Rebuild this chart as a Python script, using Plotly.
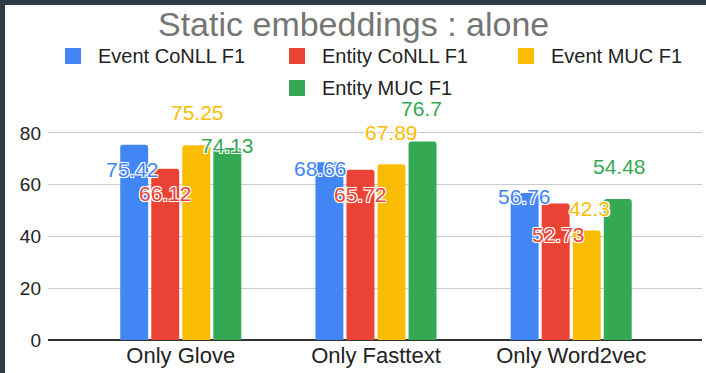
import plotly.graph_objects as go

# ---- data ----
categories = ["Only Glove", "Only Fasttext", "Only Word2vec"]
series_names = ["Event CoNLL F1", "Entity CoNLL F1", "Event MUC F1", "Entity MUC F1"]
event_conll = [75.42, 68.66, 56.76]
entity_conll = [66.12, 65.72, 52.73]
event_muc = [75.25, 67.89, 42.3]
entity_muc = [74.13, 76.7, 54.48]
y_ticks = [0, 20, 40, 60, 80]

series_values = [event_conll, entity_conll, event_muc, entity_muc]
colors = ["#4285F4", "#EA4335", "#FBBC04", "#34A853"]

# label nudges in pixels (dx, dy) relative to the top-centre of each bar
label_nudge = [
    [(-2, -25), (-9, -6), (0, -3)],
    [(0, -25), (0, -25), (3, -31)],
    [(1, 33), (0, 32), (3, 22)],
    [(0, 3), (-1, 33), (2, 32)],
]

W, H = 706, 373
ML, MR, MT, MB = 48, 4, 107, 33
FONT = "Liberation Sans, Arial, sans-serif"


def px_x(p):
    return (p - ML) / (W - ML - MR)


def px_y(p):
    return 1 - (p - MT) / (H - MT - MB)


fig = go.Figure()
for name, vals, col in zip(series_names, series_values, colors):
    fig.add_trace(go.Bar(
        name=name, x=categories, y=vals,
        marker=dict(color=col, cornerradius=3, line=dict(width=0)),
        showlegend=False,
    ))

BARGAP = 0.364
slot = (1 - BARGAP) / len(series_names)
halo = "-1px -1px 0 #fff, 1px -1px 0 #fff, -1px 1px 0 #fff, 1px 1px 0 #fff, 0 0 2px #fff"

annotations = []
for si, (vals, col) in enumerate(zip(series_values, colors)):
    for ci, v in enumerate(vals):
        dx, dy = label_nudge[si][ci]
        annotations.append(dict(
            x=ci + (si - 1.5) * slot, y=v, xref="x", yref="y",
            text=f"{v:g}", showarrow=False,
            xanchor="center", yanchor="middle",
            xshift=dx, yshift=dy,
            font=dict(family=FONT, size=21, color=col, shadow=halo),
        ))

# title
annotations.append(dict(
    text="Static embeddings : alone", xref="paper", yref="paper",
    x=px_x(353), y=px_y(24), xanchor="center", yanchor="middle",
    showarrow=False, font=dict(family=FONT, size=34, color="#757575"),
))

# legend built from swatches and labels
legend_pos = [(65, 56), (289, 56), (518, 56), (289, 88)]
shapes = []
for name, col, (lx, ly) in zip(series_names, colors, legend_pos):
    shapes.append(dict(
        type="rect", xref="paper", yref="paper",
        x0=px_x(lx), x1=px_x(lx + 16), y0=px_y(ly + 8), y1=px_y(ly - 8),
        fillcolor=col, line=dict(width=0), layer="above",
    ))
    annotations.append(dict(
        text=name, xref="paper", yref="paper",
        x=px_x(lx + 31), y=px_y(ly), xanchor="left", yanchor="middle",
        showarrow=False, font=dict(family=FONT, size=20, color="#222222"),
    ))

# dark frame along top and left edges
frame = "#2e3c47"
shapes.append(dict(type="rect", xref="paper", yref="paper",
                   x0=px_x(0), x1=px_x(5), y0=px_y(H), y1=px_y(0),
                   fillcolor=frame, line=dict(width=0), layer="above"))
shapes.append(dict(type="rect", xref="paper", yref="paper",
                   x0=px_x(0), x1=px_x(W), y0=px_y(5), y1=px_y(0),
                   fillcolor=frame, line=dict(width=0), layer="above"))

fig.update_layout(
    width=W, height=H,
    margin=dict(l=ML, r=MR, t=MT, b=MB, pad=0),
    paper_bgcolor="white", plot_bgcolor="white",
    barmode="group", bargap=BARGAP, bargroupgap=0.1,
    annotations=annotations, shapes=shapes,
    font=dict(family=FONT, color="#222222"),
)
fig.update_xaxes(
    type="category", range=[-0.68, 2.67],
    showgrid=False, showline=False, ticks="",
    tickfont=dict(size=22, color="#222222"),
)
fig.update_yaxes(
    range=[0, 90], tickvals=y_ticks, showgrid=True,
    gridcolor="#cccccc", gridwidth=1,
    zeroline=True, zerolinecolor="#333333", zerolinewidth=1.5,
    tickfont=dict(size=19, color="#222222"), ticklabelstandoff=6,
)

fig.write_html("out.html")
